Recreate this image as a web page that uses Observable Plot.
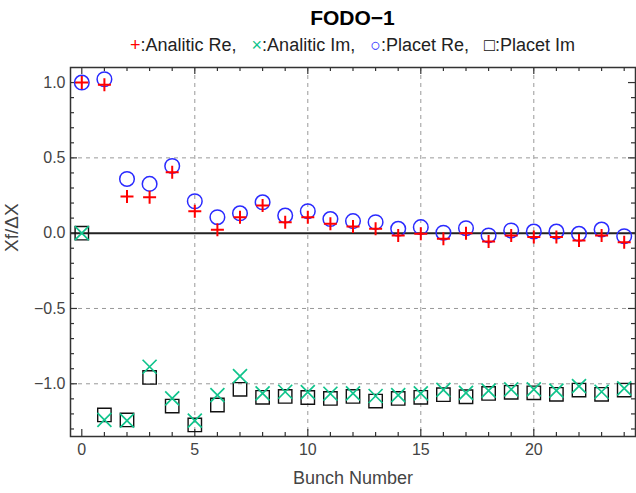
<!DOCTYPE html>
<html><head><meta charset="utf-8">
<script src="https://cdn.jsdelivr.net/npm/d3@7"></script>
<script src="https://cdn.jsdelivr.net/npm/@observablehq/plot@0.6"></script>
<style>
body{margin:0;background:#fff;}
#wrap{position:relative;width:636px;height:493px;overflow:hidden;font-family:"Liberation Sans",Arial,sans-serif;}
#title{position:absolute;left:70px;width:565px;top:5px;text-align:center;font-weight:bold;font-size:21px;color:#000;line-height:25px;}
#legend{position:absolute;left:70px;width:565px;top:35px;text-align:center;font-size:18px;color:#222;white-space:pre;line-height:20px;}
#chart svg{position:absolute;left:0;top:0;}
</style>
</head><body>
<div id="wrap">
<div id="chart"></div>
<div id="title">FODO−1</div>
<div id="legend"><span style="color:#ff0000">+</span>:Analitic Re,   <span style="color:#10c48c">×</span>:Analitic Im,   <span style="color:#2a2aff">○</span>:Placet Re,   <span style="color:#111">□</span>:Placet Im</div>
</div>
<script>
const bunch = [0,1,2,3,4,5,6,7,8,9,10,11,12,13,14,15,16,17,18,19,20,21,22,23,24];
const analyticRe = [1.00, 0.985, 0.243, 0.238, 0.404, 0.146, 0.022, 0.106, 0.183, 0.073, 0.106, 0.062, 0.044, 0.029, -0.015, -0.004, -0.037, 0.0, -0.055, -0.015, -0.026, -0.026, -0.048, -0.015, -0.06];
const placetRe = [1.00, 1.022, 0.36, 0.327, 0.446, 0.212, 0.106, 0.132, 0.205, 0.117, 0.146, 0.094, 0.08, 0.073, 0.029, 0.04, 0.003, 0.033, -0.015, 0.018, 0.011, 0.011, -0.004, 0.024, -0.02];
const analyticIm = [0, -1.24, -1.245, -0.887, -1.097, -1.245, -1.075, -0.949, -1.064, -1.053, -1.056, -1.066, -1.064, -1.081, -1.075, -1.064, -1.04, -1.06, -1.046, -1.037, -1.037, -1.046, -1.015, -1.053, -1.031];
const placetIm = [0, -1.207, -1.24, -0.958, -1.148, -1.273, -1.141, -1.037, -1.09, -1.084, -1.091, -1.097, -1.084, -1.115, -1.097, -1.09, -1.072, -1.086, -1.064, -1.057, -1.06, -1.07, -1.042, -1.07, -1.042];

const xTickLabels = [0,5,10,15,20];
const xMinor = [1,2,3,4,6,7,8,9,11,12,13,14,16,17,18,19,21,22,23,24];
const yTickLabels = [-1.0,-0.5,0.0,0.5,1.0];
const yMinor = [-1.3,-1.2,-1.1,-0.9,-0.8,-0.7,-0.6,-0.4,-0.3,-0.2,-0.1,0.1,0.2,0.3,0.4,0.6,0.7,0.8,0.9];
const xGrid = [5,10,15,20];
const yGrid = [-1.0,-0.5,0.5];

const rows = bunch.map((b,i)=>({b, ar: analyticRe[i], pr: placetRe[i], ai: analyticIm[i], pi: placetIm[i]}));

const W = 636, H = 493, mL = 70, mR = 1, mT = 67, mB = 57;
const xDom = [-0.5, 24.5], yDom = [-1.35, 1.1];
const kx = (W - mL - mR) / (xDom[1] - xDom[0]);
const ky = (H - mT - mB) / (yDom[1] - yDom[0]);
const maj = 7, mnr = 4;
const axisColor = "#333";
const fmt = d => d.toFixed(1).replace("-", "\u2212");

function ticksMarks(xs, ys, len) {
  return [
    Plot.ruleX(xs, {x: d=>d, y1: yDom[0], y2: yDom[0] + len/ky, stroke: axisColor, strokeWidth: 1.2}),
    Plot.ruleX(xs, {x: d=>d, y1: yDom[1] - len/ky, y2: yDom[1], stroke: axisColor, strokeWidth: 1.2}),
    Plot.ruleY(ys, {y: d=>d, x1: xDom[0], x2: xDom[0] + len/kx, stroke: axisColor, strokeWidth: 1.2}),
    Plot.ruleY(ys, {y: d=>d, x1: xDom[1] - len/kx, x2: xDom[1], stroke: axisColor, strokeWidth: 1.2})
  ];
}

const chart = Plot.plot({
  width: W, height: H,
  marginLeft: mL, marginRight: mR, marginTop: mT, marginBottom: mB,
  style: {fontFamily: "'Liberation Sans', Arial, sans-serif", background: "transparent", overflow: "visible"},
  x: {domain: xDom, axis: null},
  y: {domain: yDom, axis: null},
  marks: [
    Plot.ruleX(xGrid, {x: d=>d, stroke: "#999", strokeDasharray: "4,4", strokeWidth: 1}),
    Plot.ruleY(yGrid, {y: d=>d, stroke: "#999", strokeDasharray: "4,4", strokeWidth: 1}),
    Plot.ruleY([0], {y: d=>d, stroke: "#222", strokeWidth: 2}),
    ...ticksMarks(xTickLabels, yTickLabels, maj),
    ...ticksMarks(xMinor, yMinor, mnr),
    Plot.frame({stroke: axisColor, strokeWidth: 1.5}),
    Plot.axisX(xTickLabels, {anchor: "bottom", tickSize: 0, tickPadding: 7, fontSize: 16, fill: "#444", label: null, tickFormat: d=>String(d)}),
    Plot.axisY(yTickLabels, {anchor: "left", tickSize: 0, tickPadding: 5, fontSize: 16, fill: "#444", label: null, tickFormat: fmt}),
    Plot.text(["Bunch Number"], {text: d=>d, frameAnchor: "bottom", dy: 47, fontSize: 18, fill: "#444"}),
    Plot.text(["Xf/\u0394X"], {text: d=>d, frameAnchor: "left", dx: -59, rotate: -90, fontSize: 19, fill: "#444"}),
    Plot.dot(rows, {x: "b", y: "pr", symbol: "circle", r: 7.3, stroke: "#2a2aff", strokeWidth: 1.5, fill: "none"}),
    Plot.dot(rows, {x: "b", y: "pi", symbol: "square", r: 7.56, stroke: "#111", strokeWidth: 1.4, fill: "none"}),
    Plot.dot(rows, {x: "b", y: "ar", symbol: "plus", r: 4.26, stroke: "#ff0000", strokeWidth: 2, fill: "none"}),
    Plot.dot(rows, {x: "b", y: "ai", symbol: "times", r: 6.42, stroke: "#10c48c", strokeWidth: 1.7, fill: "none"})
  ]
});
document.getElementById("chart").appendChild(chart);
</script>
</body></html>
